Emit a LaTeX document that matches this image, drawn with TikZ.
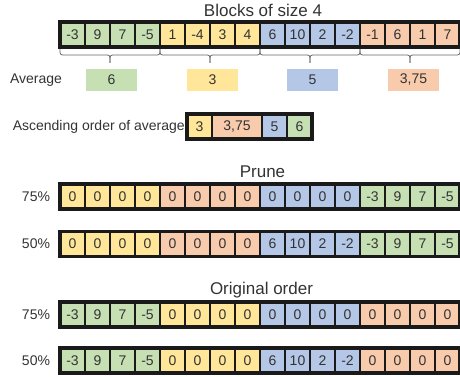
\documentclass[tikz,border=0pt]{standalone}
\usepackage{fontspec}
\setmainfont{Liberation Sans}
\definecolor{cgreen}{HTML}{C6E0B4}
\definecolor{cyellow}{HTML}{FFE699}
\definecolor{cblue}{HTML}{B4C7E7}
\definecolor{corange}{HTML}{F8CBAD}
\definecolor{ink}{HTML}{333333}
\definecolor{edge}{HTML}{1A1A1A}

% a row of 16 cells starting at x = 60, then a heavy frame round it
% #1 = name prefix, #2 = y of the row centre, #3 = list of value/colour
\newcommand\cellrow[3]{%
  \foreach \v/\c [count=\i] in {#3} {
    \node[cell, fill=\c] (#1-\i) at ({72.5+25*(\i-1)}, #2) {\v};
  }
  \draw[frame] (#1-1.north west) rectangle (#1-16.south east);
}

\begin{document}
\begin{tikzpicture}[x=1pt, y=-1pt,
  every node/.style={text=ink},
  cell/.style={draw=edge, line width=1.6pt, minimum width=25pt, minimum height=25pt,
    inner sep=0pt, outer sep=0pt, font=\fontsize{14}{14}\selectfont},
  frame/.style={draw=edge, line width=3.2pt},
  avgbox/.style={minimum width=51pt, minimum height=22pt, inner sep=0pt,
    font=\fontsize{14}{14}\selectfont},
  label/.style={font=\fontsize{14}{14}\selectfont, inner sep=0pt},
  title/.style={font=\fontsize{17}{17}\selectfont, inner sep=0pt},
  bracket/.style={draw=black!60, line width=0.8pt, rounded corners=2.5pt}
]
\useasboundingbox (0,0) rectangle (460,377);
\clip (0,0) rectangle (460,377);

% ---- blocks of the input vector ----
\node[title] (t1) at (263,10) {Blocks of size 4};
\cellrow{in}{34.5}{-3/cgreen,9/cgreen,7/cgreen,-5/cgreen,
  1/cyellow,-4/cyellow,3/cyellow,4/cyellow,
  6/cblue,10/cblue,2/cblue,-2/cblue,
  -1/corange,6/corange,1/corange,7/corange}

% braces under each block
\foreach \b in {1,...,4} {
  \coordinate (bl\b) at ({60+100*(\b-1)}, 49);
  \coordinate (br\b) at ({160+100*(\b-1)}, 49);
  \coordinate (bt\b) at ({110+100*(\b-1)}, 63);
  \draw[bracket] (bl\b) -- ++(0,6) -| (bt\b);
  \draw[bracket] (br\b) -- ++(0,6) -| (bt\b);
}

% block averages
\node[label] (avglab) at (36,80) {Average};
\node[avgbox, fill=cgreen]  (avg1) at (111.5,80) {6};
\node[avgbox, fill=cyellow] (avg2) at (212.5,80) {3};
\node[avgbox, fill=cblue]   (avg3) at (312.5,80) {5};
\node[avgbox, fill=corange] (avg4) at (413.5,80) {3,75};

% averages sorted ascending
\node[cell, fill=cyellow] (as1) at (199.5,126.5) {3};
\node[cell, fill=corange, minimum width=50pt] (as2) at (237,126.5) {3,75};
\node[cell, fill=cblue]   (as3) at (274.5,126.5) {5};
\node[cell, fill=cgreen]  (as4) at (299.5,126.5) {6};
\draw[frame] (as1.north west) rectangle (as4.south east);
\node[label, anchor=east] (aslab) at ([xshift=-2pt]as1.west) {Ascending order of average};

% ---- pruned blocks, sorted order ----
\node[title] (t2) at (262.5,172) {Prune};
\node[label] (p75) at (36,196.5) {75\%};
\cellrow{pa}{196.5}{0/cyellow,0/cyellow,0/cyellow,0/cyellow,
  0/corange,0/corange,0/corange,0/corange,
  0/cblue,0/cblue,0/cblue,0/cblue,
  -3/cgreen,9/cgreen,7/cgreen,-5/cgreen}
\node[label] (p50) at (36,244) {50\%};
\cellrow{pb}{244}{0/cyellow,0/cyellow,0/cyellow,0/cyellow,
  0/corange,0/corange,0/corange,0/corange,
  6/cblue,10/cblue,2/cblue,-2/cblue,
  -3/cgreen,9/cgreen,7/cgreen,-5/cgreen}

% ---- pruned blocks, original order ----
\node[title] (t3) at (261.5,290) {Original order};
\node[label] (o75) at (36,314.5) {75\%};
\cellrow{oa}{314.5}{-3/cgreen,9/cgreen,7/cgreen,-5/cgreen,
  0/cyellow,0/cyellow,0/cyellow,0/cyellow,
  0/cblue,0/cblue,0/cblue,0/cblue,
  0/corange,0/corange,0/corange,0/corange}
\node[label] (o50) at (36,360.5) {50\%};
\cellrow{ob}{360.5}{-3/cgreen,9/cgreen,7/cgreen,-5/cgreen,
  0/cyellow,0/cyellow,0/cyellow,0/cyellow,
  6/cblue,10/cblue,2/cblue,-2/cblue,
  0/corange,0/corange,0/corange,0/corange}
\end{tikzpicture}
\end{document}
